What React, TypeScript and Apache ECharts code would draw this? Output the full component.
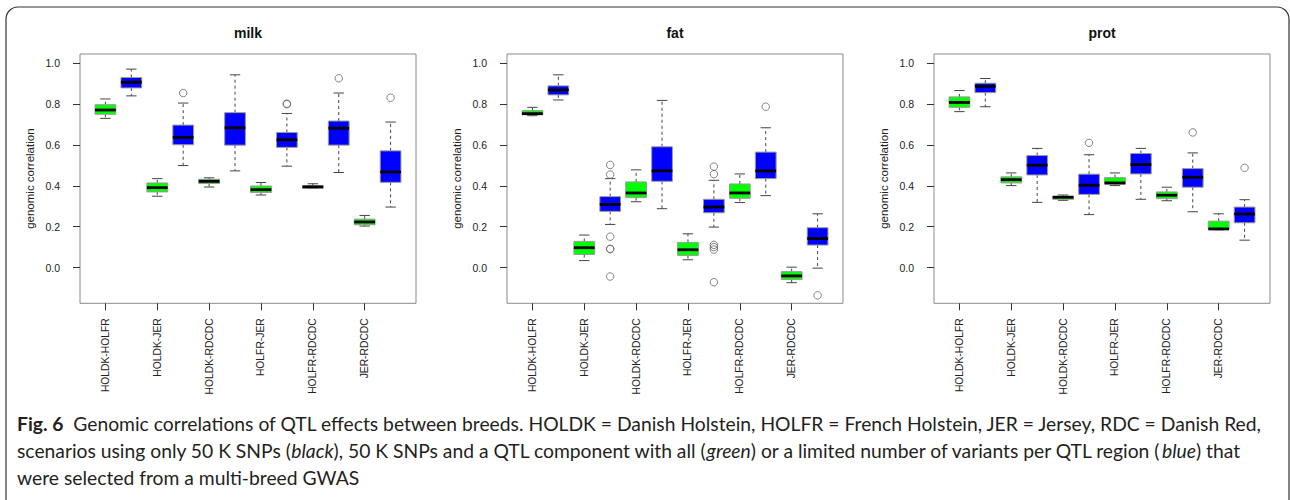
import React, { useEffect, useRef } from "react";
import * as echarts from "echarts";

const categories = ["HOLDK-HOLFR", "HOLDK-JER", "HOLDK-RDCDC", "HOLFR-JER", "HOLFR-RDCDC", "JER-RDCDC"];
const yTicks = [0, 0.2, 0.4, 0.6, 0.8, 1.0];
const panelTitles = ["milk", "fat", "prot"];

// each box: [lowWhisker, q1, median, q3, highWhisker]
const milkGreen = [
  [0.730, 0.750, 0.771, 0.797, 0.825],
  [0.349, 0.370, 0.391, 0.414, 0.435],
  [0.394, 0.411, 0.422, 0.432, 0.439],
  [0.355, 0.367, 0.381, 0.399, 0.416],
  [0.387, 0.388, 0.395, 0.400, 0.410],
  [0.203, 0.209, 0.223, 0.237, 0.255],
];
const milkBlue = [
  [0.840, 0.879, 0.907, 0.930, 0.971],
  [0.499, 0.601, 0.637, 0.697, 0.805],
  [0.473, 0.599, 0.684, 0.758, 0.943],
  [0.496, 0.588, 0.625, 0.661, 0.754],
  [0.465, 0.599, 0.682, 0.717, 0.854],
  [0.296, 0.417, 0.468, 0.571, 0.712],
];
// outliers: [categoryIndex, value]
const milkBlueOut = [[1, 0.854], [3, 0.799], [3, 0.802], [4, 0.926], [5, 0.831]];

const fatGreen = [
  [0.743, 0.748, 0.753, 0.768, 0.784],
  [0.034, 0.064, 0.097, 0.128, 0.159],
  [0.322, 0.342, 0.365, 0.419, 0.478],
  [0.038, 0.059, 0.087, 0.123, 0.165],
  [0.318, 0.339, 0.365, 0.409, 0.458],
  [-0.074, -0.059, -0.041, -0.020, 0.002],
];
const fatBlue = [
  [0.820, 0.845, 0.869, 0.889, 0.943],
  [0.211, 0.275, 0.309, 0.347, 0.435],
  [0.288, 0.422, 0.473, 0.591, 0.818],
  [0.198, 0.268, 0.296, 0.334, 0.427],
  [0.352, 0.435, 0.473, 0.565, 0.684],
  [-0.003, 0.110, 0.142, 0.195, 0.263],
];
const fatBlueOut = [
  [1, 0.502], [1, 0.455], [1, 0.151], [1, 0.090], [1, 0.092], [1, -0.044],
  [3, 0.494], [3, 0.457], [3, 0.111], [3, 0.100], [3, 0.088], [3, -0.072],
  [4, 0.787], [5, -0.136],
];

const protGreen = [
  [0.763, 0.784, 0.808, 0.835, 0.866],
  [0.401, 0.414, 0.430, 0.444, 0.463],
  [0.329, 0.334, 0.344, 0.349, 0.355],
  [0.401, 0.408, 0.414, 0.440, 0.463],
  [0.327, 0.337, 0.354, 0.370, 0.393],
  [0.185, 0.186, 0.189, 0.227, 0.263],
];
const protBlue = [
  [0.787, 0.856, 0.887, 0.902, 0.925],
  [0.319, 0.453, 0.501, 0.548, 0.583],
  [0.259, 0.358, 0.403, 0.457, 0.552],
  [0.334, 0.458, 0.504, 0.558, 0.583],
  [0.273, 0.393, 0.442, 0.484, 0.561],
  [0.134, 0.219, 0.262, 0.296, 0.332],
];
const protBlueOut = [[2, 0.610], [4, 0.661], [5, 0.488]];

const panels = [
  { green: milkGreen, blue: milkBlue, blueOut: milkBlueOut },
  { green: fatGreen, blue: fatBlue, blueOut: fatBlueOut },
  { green: protGreen, blue: protBlue, blueOut: protBlueOut },
];

const GRID_LEFTS = [80, 507, 934];
const GRID_TOP = 54;
const GRID_W = 336;
const GRID_H = 249.3;
const FONT = '"Liberation Sans", Arial, sans-serif';
const CAP_FONT = 'Lato, "Open Sans", sans-serif';
const CAP_SIZE = 19.3;

function renderBox(color: string) {
  return (params: any, api: any) => {
    const x = api.value(0);
    const pLow = api.coord([x, api.value(1)]);
    const pQ1 = api.coord([x, api.value(2)]);
    const pMed = api.coord([x, api.value(3)]);
    const pQ3 = api.coord([x, api.value(4)]);
    const pHigh = api.coord([x, api.value(5)]);
    const half = api.size([0.8, 0])[0] / 2;
    const cap = api.size([0.4, 0])[0] / 2;
    const cx = pMed[0];
    const wStyle = { stroke: "#444", lineWidth: 1, lineDash: [3, 3] };
    const cStyle = { stroke: "#444", lineWidth: 1 };
    return {
      type: "group",
      children: [
        { type: "line", shape: { x1: cx, y1: pQ3[1], x2: cx, y2: pHigh[1] }, style: wStyle },
        { type: "line", shape: { x1: cx, y1: pQ1[1], x2: cx, y2: pLow[1] }, style: wStyle },
        { type: "line", shape: { x1: cx - cap, y1: pHigh[1], x2: cx + cap, y2: pHigh[1] }, style: cStyle },
        { type: "line", shape: { x1: cx - cap, y1: pLow[1], x2: cx + cap, y2: pLow[1] }, style: cStyle },
        {
          type: "rect",
          shape: { x: cx - half, y: pQ3[1], width: 2 * half, height: pQ1[1] - pQ3[1] },
          style: { fill: color, stroke: "#9a9a9a", lineWidth: 1 },
        },
        { type: "line", shape: { x1: cx - half, y1: pMed[1], x2: cx + half, y2: pMed[1] }, style: { stroke: "#000", lineWidth: 2.8 } },
      ],
    };
  };
}

export default function App() {
  const ref = useRef<HTMLDivElement>(null);
  useEffect(() => {
    if (!ref.current) return;
    const chart = echarts.init(ref.current, undefined, { renderer: "svg" });
    const tickPos = categories.map((_, i) => 2 * i + 1);

    const grid = GRID_LEFTS.map((left) => ({
      left,
      top: GRID_TOP,
      width: GRID_W,
      height: GRID_H,
      show: true,
      borderColor: "#8a8a8a",
      borderWidth: 1,
      backgroundColor: "transparent",
      containLabel: false,
    }));

    const xAxis = GRID_LEFTS.map((_, i) => ({
      gridIndex: i,
      type: "value",
      min: 0.02,
      max: 12.98,
      axisLine: { show: false, onZero: false },
      splitLine: { show: false },
      axisTick: { show: true, customValues: tickPos, length: 7, lineStyle: { color: "#333" } },
      axisLabel: {
        customValues: tickPos,
        rotate: 90,
        margin: 15,
        fontSize: 10.3,
        fontFamily: FONT,
        color: "#222",
        formatter: (v: number) => categories[Math.round((v - 1) / 2)] ?? "",
      },
    }));

    const yAxis = GRID_LEFTS.map((_, i) => ({
      gridIndex: i,
      type: "value",
      min: -0.175,
      max: 1.045,
      name: "genomic correlation",
      nameLocation: "middle",
      nameGap: 44,
      nameTextStyle: { fontSize: 11.5, fontFamily: FONT, color: "#222" },
      axisLine: { show: false, onZero: false },
      splitLine: { show: false },
      axisTick: { show: true, customValues: yTicks, length: 7, lineStyle: { color: "#333" } },
      axisLabel: {
        customValues: yTicks,
        margin: 20,
        fontSize: 10.5,
        fontFamily: FONT,
        color: "#222",
        formatter: (v: number) => v.toFixed(1),
      },
    }));

    const series: any[] = [];
    panels.forEach((p, i) => {
      series.push({
        type: "custom",
        xAxisIndex: i,
        yAxisIndex: i,
        renderItem: renderBox("#00ff00"),
        encode: { x: 0, y: [1, 5] },
        data: p.green.map((b, k) => [2 * k + 1, ...b]),
      });
      series.push({
        type: "custom",
        xAxisIndex: i,
        yAxisIndex: i,
        renderItem: renderBox("#0000ff"),
        encode: { x: 0, y: [1, 5] },
        data: p.blue.map((b, k) => [2 * k + 2, ...b]),
      });
      series.push({
        type: "scatter",
        xAxisIndex: i,
        yAxisIndex: i,
        symbol: "circle",
        symbolSize: 7.5,
        itemStyle: { color: "transparent", borderColor: "#666", borderWidth: 1 },
        data: p.blueOut.map(([k, v]) => [2 * k + 2, v]),
      });
    });

    const titles = panelTitles.map((t, i) => ({
      type: "text",
      x: GRID_LEFTS[i] + GRID_W / 2,
      y: 33,
      style: {
        text: t,
        font: `bold 14px ${FONT}`,
        fill: "#111",
        textAlign: "center",
        align: "center",
        textVerticalAlign: "middle",
        verticalAlign: "middle",
      },
    }));

    const capRich = {
      b: { fontWeight: "bold", fontSize: CAP_SIZE, fontFamily: CAP_FONT, fill: "#231f20", color: "#231f20" },
      i: { fontStyle: "italic", fontSize: CAP_SIZE, fontFamily: CAP_FONT, fill: "#231f20", color: "#231f20" },
    };
    const capLines = [
      "{b|Fig. 6}  Genomic correlations of QTL effects between breeds. HOLDK = Danish Holstein, HOLFR = French Holstein, JER = Jersey, RDC = Danish Red,",
      "scenarios using only 50 K SNPs ({i|black}), 50 K SNPs and a QTL component with all ({i|green}) or a limited number of variants per QTL region ({i|blue}) that",
      "were selected from a multi-breed GWAS",
    ];
    const captions = capLines.map((line, k) => ({
      type: "text",
      x: 17,
      y: 423 + 27 * k,
      style: {
        text: line,
        font: `${CAP_SIZE}px ${CAP_FONT}`,
        fill: "#231f20",
        rich: capRich,
        textVerticalAlign: "middle",
        verticalAlign: "middle",
      },
    }));

    chart.setOption({
      animation: false,
      backgroundColor: "#fff",
      grid,
      xAxis,
      yAxis,
      series,
      graphic: [
        {
          type: "rect",
          shape: { x: 6, y: 7, width: 1283, height: 600, r: 12 },
          style: { fill: "none", stroke: "#333", lineWidth: 1.2 },
          silent: true,
        },
        ...titles,
        ...captions,
      ],
    });
    return () => chart.dispose();
  }, []);

  return (
    <div
      ref={ref}
      style={{ position: "fixed", left: 0, top: 0, width: 1290, height: 500 }}
    />
  );
}
